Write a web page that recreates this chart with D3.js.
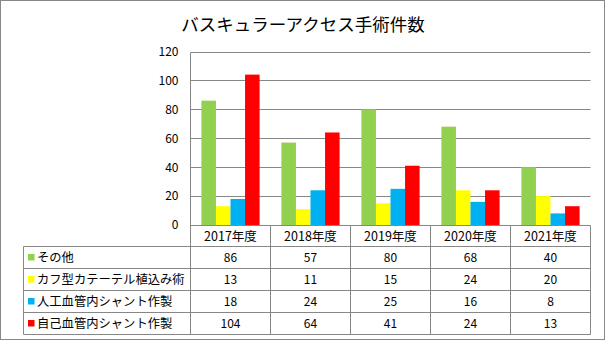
<!DOCTYPE html>
<html><head><meta charset="utf-8">
<script src="https://cdn.jsdelivr.net/npm/d3@7"></script>
<style>
html,body{margin:0;padding:0;background:#fff;}
svg{display:block;font-family:"Noto Sans CJK JP","Noto Sans",sans-serif;}
</style></head>
<body>
<svg id="c" width="606" height="341"></svg>
<script>
const title = "バスキュラーアクセス手術件数";
const categories = ["2017年度","2018年度","2019年度","2020年度","2021年度"];
const seriesNames = ["その他","カフ型カテーテル植込み術","人工血管内シャント作製","自己血管内シャント作製"];
const seriesColors = ["#92D050","#FFFF00","#00B0F0","#FF0000"];
const sonota = [86,57,80,68,40];
const cuff = [13,11,15,24,20];
const jinko = [18,24,25,16,8];
const jiko = [104,64,41,24,13];
const seriesValues = [sonota, cuff, jinko, jiko];
const yTicks = [0,20,40,60,80,100,120];

const svg = d3.select("#c");
const grid = "#878787";

// outer frame
svg.append("rect").attr("x",0.5).attr("y",0.5).attr("width",604).attr("height",339)
  .attr("fill","#fff").attr("stroke",grid).attr("stroke-width",1);

// title
svg.append("text").attr("x",303).attr("y",31).attr("text-anchor","middle")
  .attr("font-size",17.5).attr("fill","#000").text(title);

const plotL = 190.5, plotR = 590.5;
const x0 = d3.scaleBand().domain(categories).range([plotL, plotR]).padding(0);
const x1 = d3.scaleBand().domain(d3.range(seriesNames.length)).range([0, x0.bandwidth()])
  .paddingInner(0).paddingOuter(0.75);
const y = d3.scaleLinear().domain([0,120]).range([225, 51.5]);

// gridlines
svg.append("g").selectAll("line").data(yTicks.filter(t=>t>0)).join("line")
  .attr("x1",plotL).attr("x2",plotR)
  .attr("y1",d=>Math.round(y(d))+0.5).attr("y2",d=>Math.round(y(d))+0.5)
  .attr("stroke",grid).attr("stroke-width",1);

// y axis via d3.axisLeft
const yAxis = d3.axisLeft(y).tickValues(yTicks).tickSize(0).tickPadding(12);
const ya = svg.append("g").attr("transform",`translate(${plotL},0)`).call(yAxis);
ya.select(".domain").remove();
ya.selectAll("text").attr("font-size",12).attr("fill","#000")
  .attr("font-family",'"Noto Sans CJK JP","Noto Sans",sans-serif');

// bars
const groups = svg.append("g").selectAll("g").data(categories).join("g")
  .attr("transform",d=>`translate(${x0(d)},0)`);
groups.selectAll("rect").data((c,ci)=>seriesValues.map((s,si)=>({si, v:s[ci]}))).join("rect")
  .attr("x",d=>x1(d.si)).attr("width",x1.bandwidth())
  .attr("y",d=>y(d.v)).attr("height",d=>y(0)-y(d.v))
  .attr("fill",d=>seriesColors[d.si]);

// axis line (left) and zero line
svg.append("line").attr("x1",plotL).attr("x2",plotL).attr("y1",Math.round(y(120))+0.5).attr("y2",334.5)
  .attr("stroke",grid);
svg.append("line").attr("x1",plotL).attr("x2",plotR).attr("y1",225.5).attr("y2",225.5).attr("stroke",grid);

// data table
const tableL = 23.5, rowH = 22;
const rowTops = [225.5, 246.5, 268.5, 290.5, 312.5, 334.5];
// horizontal lines
rowTops.slice(1).forEach(yy=>{
  svg.append("line").attr("x1",tableL).attr("x2",plotR).attr("y1",yy).attr("y2",yy).attr("stroke",grid);
});
// vertical lines
categories.forEach(c=>{
  const xr = x0(c)+x0.bandwidth();
  svg.append("line").attr("x1",xr).attr("x2",xr).attr("y1",225.5).attr("y2",334.5).attr("stroke",grid);
});
svg.append("line").attr("x1",tableL).attr("x2",tableL).attr("y1",246.5).attr("y2",334.5).attr("stroke",grid);

// header labels
svg.append("g").selectAll("text").data(categories).join("text")
  .attr("x",d=>x0(d)+x0.bandwidth()/2).attr("y",(rowTops[0]+rowTops[1])/2+4.5)
  .attr("text-anchor","middle").attr("font-size",12.5).attr("fill","#000").text(d=>d);

// rows
seriesNames.forEach((name,si)=>{
  const top = rowTops[si+1], bot = rowTops[si+2];
  const cy = (top+bot)/2;
  svg.append("rect").attr("x",28).attr("y",Math.round(cy)-4).attr("width",6.5).attr("height",6.5)
    .attr("fill",seriesColors[si]);
  svg.append("text").attr("x",37).attr("y",cy+4.5).attr("font-size",12.3).attr("fill","#000").text(name);
  svg.append("g").selectAll("text").data(seriesValues[si]).join("text")
    .attr("x",(d,i)=>x0(categories[i])+x0.bandwidth()/2).attr("y",cy+4.5)
    .attr("text-anchor","middle").attr("font-size",12).attr("fill","#000").text(d=>d);
});
</script>
</body></html>
